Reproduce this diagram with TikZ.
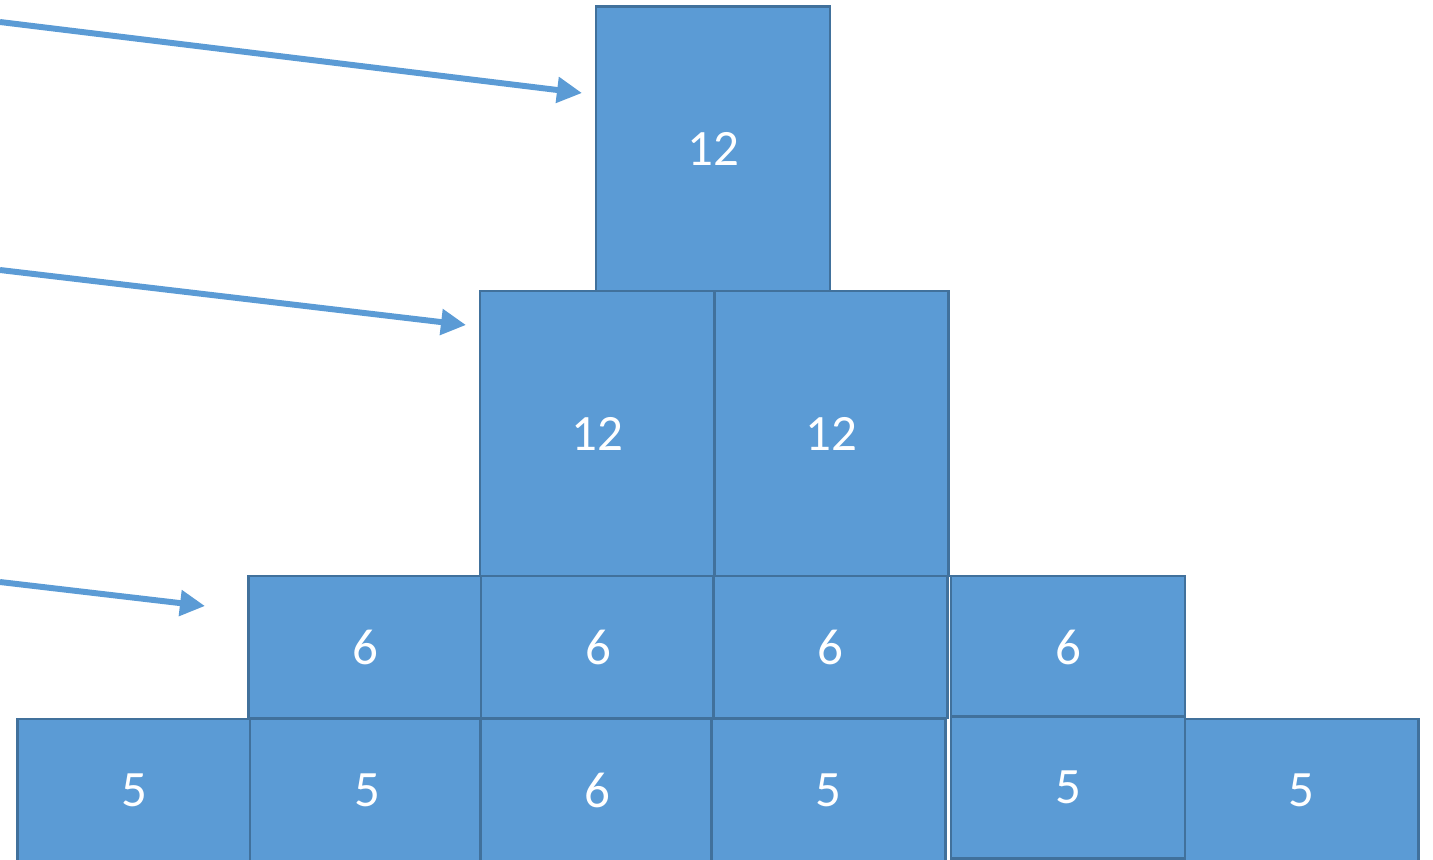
\documentclass[tikz,border=0pt]{standalone}
\usepackage{fontspec}
\setmainfont{Carlito}
\usetikzlibrary{arrows.meta}

\definecolor{boxfill}{HTML}{5B9BD5}
\definecolor{boxline}{HTML}{41719C}

\begin{document}
\begin{tikzpicture} [x=0.02cm, y=-0.02cm,
  blk/.style={draw=boxline, fill=boxfill, line width=1.6pt, text=white,
    minimum width=4.68cm, inner sep=0pt, font=\fontsize{29}{35}\selectfont},
  tall/.style={blk, minimum height=5.7cm},
  low/.style={blk, minimum height=2.84cm},
  ptr/.style={boxfill, line width=3.4pt, -{Triangle[length=0.5cm,width=0.5cm]}}]
\useasboundingbox (0,0) rectangle (1433,859);
% top
\node[tall] (top) at (713,149) {12};
% second row
\node[tall] (midA) at (597,433.5) {12};
\node[tall] (midB) at (831.5,433.5) {12};
% third row
\foreach \x [count=\i] in {365.5,598,830.5,1068} {
 \node[low] (six\i) at (\x,647) {6};
}
% bottom row
\foreach \x/\t [count=\i] in {134.5/5,367/5,597.5/6,828.5/5,1301.5/5} {
 \node[low] (base\i) at (\x,790) {\t};
}
\node[low] (base6) at (1068,787.5) {5};
% arrows
\coordinate (s1) at (0,22);   \coordinate (e1) at (582,93);
\coordinate (s2) at (0,270);  \coordinate (e2) at (466,325);
\coordinate (s3) at (0,582);  \coordinate (e3) at (205,606);
\draw[ptr] (s1)--(e1);
\draw[ptr] (s2)--(e2);
\draw[ptr] (s3)--(e3);
\end{tikzpicture}
\end{document}
